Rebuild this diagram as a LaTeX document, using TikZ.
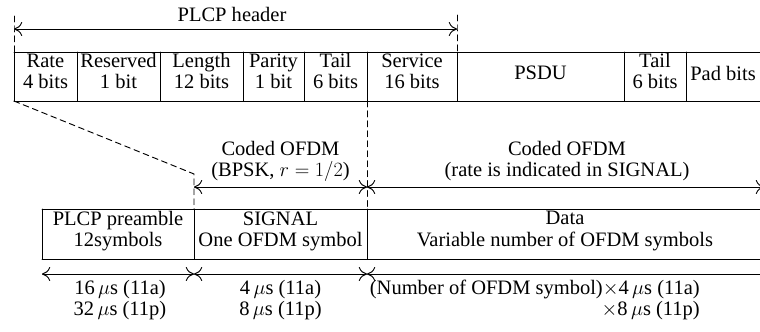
\documentclass[tikz,border=0pt]{standalone}
\usepackage{fontspec}
\setmainfont{Liberation Serif}
\usepackage{amsmath}
\usetikzlibrary{arrows.meta}
\tikzstyle{every node}=[font=\fontsize{17.5}{18}\selectfont,align=center,inner sep=0pt]
\tikzset{frame/.style={line width=0.8pt},
  guide/.style={line width=0.8pt,dash pattern=on 5pt off 3.5pt},
  span/.style={line width=0.8pt,<->}}
\begin{document}
\begin{tikzpicture}[line cap=round,line join=round,>={To[length=7pt,width=12pt]},x=0.03cm,y=-0.03cm]
\useasboundingbox (0,0) rectangle (760,331);
\clip (0,0) rectangle (760,331);
% upper row: PLCP header and data fields
\draw [frame] (14,52) -- (760,52);
\draw [frame] (14,101) -- (760,101);
\foreach \x in {14,77,160,243,304,367,457,624,686}
  \draw [frame] (\x,52) -- (\x,101);
\draw (45.5,71) node (rate) {Rate\\4 bits};
\draw (118.5,71) node (reserved) {Reserved\\1 bit};
\draw (201.5,71) node (length) {Length\\12 bits};
\draw (273.5,71) node (parity) {Parity\\1 bit};
\draw (335.5,71) node (tail) {Tail\\6 bits};
\draw (412,71) node (service) {Service\\16 bits};
\draw (540.5,73) node (psdu) {PSDU};
\draw (655,71) node (tailb) {Tail\\6 bits};
\draw (723,73) node (pad) {Pad bits};
% span of the header
\coordinate (hl) at (14,29);
\coordinate (hr) at (457,29);
\draw [guide] (14,16) -- (hl) -- (14,52);
\draw [guide] (457,15) -- (hr) -- (457,52);
\draw [span] (hl) -- (hr);
\draw (232,14) node (header) {PLCP header};
% lower row: preamble, SIGNAL and data
\draw [frame] (42,209) -- (760,209);
\draw [frame] (42,259) -- (760,259);
\foreach \x in {42,194,367}
  \draw [frame] (\x,209) -- (\x,259);
\draw (118,231) node (preamble) {PLCP preamble\\12symbols};
\draw (280.5,231) node (signal) {SIGNAL\\One OFDM symbol};
\draw (565,231) node (data) {Data\\Variable number of OFDM symbols};
% expansion of the header into SIGNAL
\coordinate (sa) at (194,187);
\coordinate (sb) at (367,187);
\coordinate (sc) at (764,187);
\draw [guide] (14,101) -- (194,174) -- (sa) -- (194,209);
\draw [guide] (367,101) -- (sb) -- (367,209);
\draw [span] (sa) -- (sb);
\draw [span] (sb) -- (sc);
\draw (280.5,161) node (codeda) {Coded OFDM\\(BPSK, $r = 1/2$)};
\draw (567,161) node (codedb) {Coded OFDM\\(rate is indicated in SIGNAL)};
% durations
\coordinate (ta) at (42,274);
\coordinate (tb) at (194,274);
\coordinate (tc) at (367,274);
\coordinate (td) at (760,274);
\draw [span] (ta) -- (tb);
\draw [span] (tb) -- (tc);
\draw [line width=0.8pt,<-] (tc) -- (td);
\draw (120,300) node (timea) {16\,$\mu$s (11a)\\32\,$\mu$s (11p)};
\draw (280.5,300) node (timeb) {4\,$\mu$s (11a)\\8\,$\mu$s (11p)};
\draw (700,300) node [anchor=east,align=right] (timec) {(Number of OFDM symbol)$\times$4\,$\mu$s (11a)\\$\times$8\,$\mu$s (11p)};
\end{tikzpicture}
\end{document}
